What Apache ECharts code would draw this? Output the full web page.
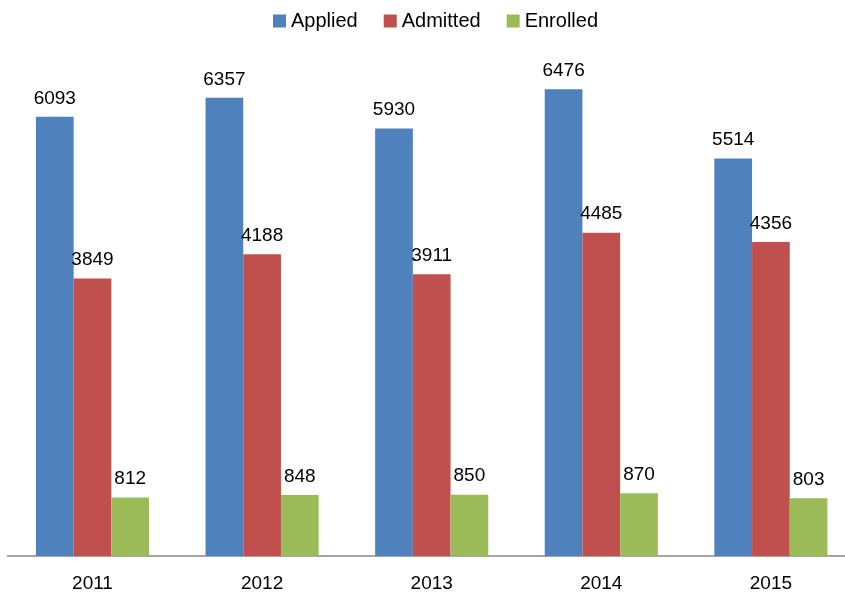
<!DOCTYPE html>
<html>
<head>
<meta charset="utf-8">
<script src="https://cdn.jsdelivr.net/npm/echarts@6/dist/echarts.min.js"></script>
<style>html,body{margin:0;padding:0;background:#fff;overflow:hidden;width:845px;height:597px;}#c{width:870px;height:597px;}</style>
</head>
<body>
<div id="c"></div>
<script>
const categories = ['2011', '2012', '2013', '2014', '2015'];
const applied = [6093, 6357, 5930, 6476, 5514];
const admitted = [3849, 4188, 3911, 4485, 4356];
const enrolled = [812, 848, 850, 870, 803];
const seriesNames = ['Applied', 'Admitted', 'Enrolled'];
const colors = ['#4F81BD', '#C0504D', '#9BBB59'];

const FONT = 'Liberation Sans';
const chart = echarts.init(document.getElementById('c'));
const label = {show: true, position: 'top', distance: 9, color: '#000', fontFamily: FONT, fontSize: 19};
chart.setOption({
  animation: false,
  backgroundColor: '#fff',
  color: colors,
  legend: {
    top: 6, left: 268,
    itemWidth: 13, itemHeight: 13, itemGap: 26,
    icon: 'rect',
    textStyle: {fontFamily: FONT, fontSize: 20, color: '#000'},
    data: seriesNames
  },
  grid: {left: 7.7, width: 848, top: 51.5, bottom: 41, containLabel: false},
  xAxis: {
    type: 'category', data: categories,
    axisLine: {lineStyle: {color: '#A6A6A6', width: 2}},
    axisTick: {show: false},
    axisLabel: {fontFamily: FONT, fontSize: 19, color: '#000', margin: 18}
  },
  yAxis: {type: 'value', min: 0, max: 7000, interval: 1000, show: false, splitLine: {show: false}},
  series: [
    {name: seriesNames[0], type: 'bar', data: applied, barGap: '0%', barCategoryGap: '33.3%', label},
    {name: seriesNames[1], type: 'bar', data: admitted, label},
    {name: seriesNames[2], type: 'bar', data: enrolled, label}
  ]
});
</script>
</body>
</html>
